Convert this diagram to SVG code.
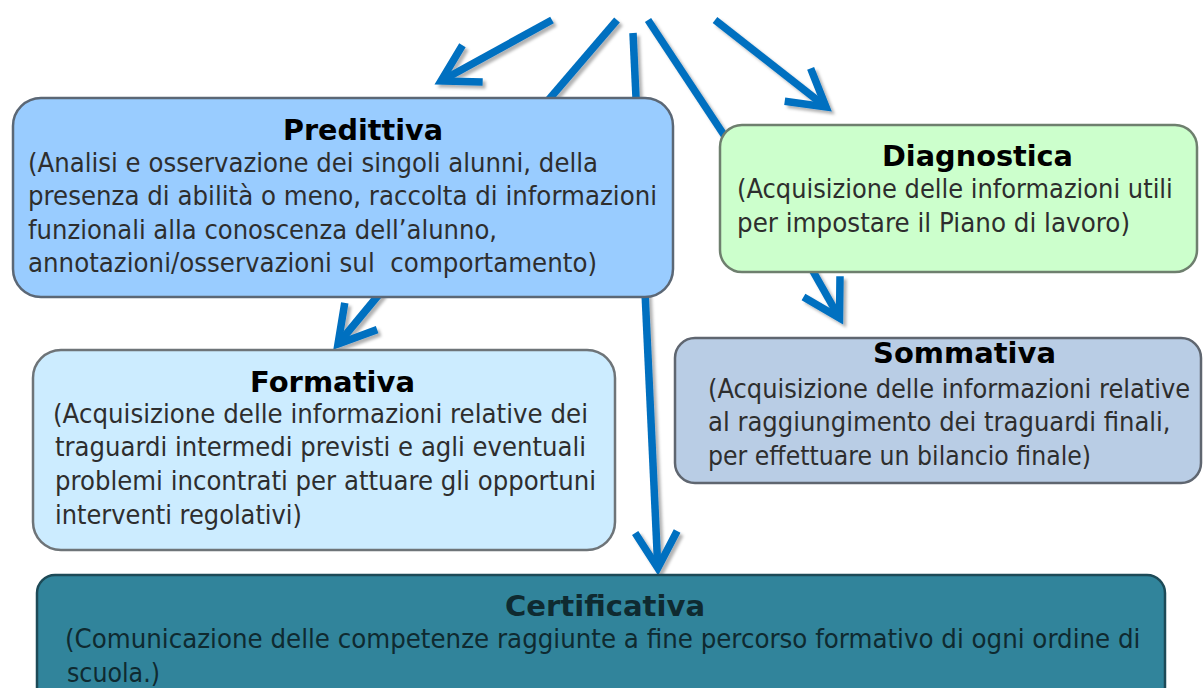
<svg xmlns="http://www.w3.org/2000/svg" width="1203" height="688" viewBox="0 0 1203 688">
<style>
.box{stroke-width:2.5}
.t{font-family:"DejaVu Sans","Noto Sans",sans-serif;font-size:29px;font-weight:bold;fill:#000}
.b{font-family:"DejaVu Sans","Noto Sans",sans-serif;font-size:27px;fill:#2e2e2e}
.cb{fill:#0f2a30}
.con{stroke:#0070C0;stroke-width:7.5;fill:none}
</style>
<defs>
<marker id="chev" markerUnits="userSpaceOnUse" orient="auto" overflow="visible" refX="0" refY="0" markerWidth="1" markerHeight="1">
<path d="M-36,-21 L0,0 L-36,21" fill="none" stroke="#0070C0" stroke-width="7.5" stroke-linejoin="miter"/>
</marker>
<filter id="sh" x="-20%" y="-20%" width="140%" height="140%">
<feDropShadow dx="3" dy="3" stdDeviation="1.5" flood-color="#000" flood-opacity="0.3"/>
</filter>
</defs>
<rect width="1203" height="688" fill="#fff"/>
<g id="connectors" class="con" filter="url(#sh)">
<line x1="552" y1="20" x2="441" y2="81" marker-end="url(#chev)"/>
<line x1="617" y1="20" x2="545" y2="104"/>
<line x1="633" y1="33" x2="657.8" y2="568" marker-end="url(#chev)"/>
<line x1="648" y1="20" x2="726" y2="138"/>
<line x1="715" y1="20" x2="826" y2="107" marker-end="url(#chev)"/>
<line x1="381" y1="292" x2="338" y2="344" marker-end="url(#chev)"/>
<line x1="810" y1="266" x2="839.5" y2="318" marker-end="url(#chev)"/>
</g>
<g id="predittiva">
<rect class="box" x="13" y="98" width="660" height="199" rx="28" fill="#99CCFF" stroke="#5b6775"/>
<text class="t" x="283" y="140" textLength="160" lengthAdjust="spacingAndGlyphs">Predittiva</text>
<text class="b" x="28" y="172" textLength="570" lengthAdjust="spacingAndGlyphs">(Analisi e osservazione dei singoli alunni, della</text>
<text class="b" x="28" y="205" textLength="629" lengthAdjust="spacingAndGlyphs">presenza di abilità o meno, raccolta di informazioni</text>
<text class="b" x="28" y="239" textLength="469" lengthAdjust="spacingAndGlyphs">funzionali alla conoscenza dell’alunno,</text>
<text class="b" x="28" y="272" textLength="569" lengthAdjust="spacingAndGlyphs" xml:space="preserve">annotazioni/osservazioni sul  comportamento)</text>
</g>
<g id="diagnostica">
<rect class="box" x="720" y="125" width="477" height="147" rx="22" fill="#CCFFCC" stroke="#6e7f6e"/>
<text class="t" x="882" y="166" textLength="191" lengthAdjust="spacingAndGlyphs">Diagnostica</text>
<text class="b" transform="translate(737,198) scale(0.893,1)" x="0" y="0" textLength="488" lengthAdjust="spacingAndGlyphs">(Acquisizione delle informazioni utili</text>
<text class="b" x="737" y="232" textLength="393" lengthAdjust="spacingAndGlyphs">per impostare il Piano di lavoro)</text>
</g>
<g id="formativa">
<rect class="box" x="33" y="350" width="582" height="200" rx="28" fill="#CCECFF" stroke="#6e7478"/>
<text class="t" x="250" y="392" textLength="165" lengthAdjust="spacingAndGlyphs">Formativa</text>
<text class="b" x="53" y="423" textLength="535" lengthAdjust="spacingAndGlyphs">(Acquisizione delle informazioni relative dei</text>
<text class="b" x="55" y="456" textLength="531" lengthAdjust="spacingAndGlyphs">traguardi intermedi previsti e agli eventuali</text>
<text class="b" x="55" y="490" textLength="541" lengthAdjust="spacingAndGlyphs">problemi incontrati per attuare gli opportuni</text>
<text class="b" x="55" y="524" textLength="247" lengthAdjust="spacingAndGlyphs">interventi regolativi)</text>
</g>
<g id="sommativa">
<rect class="box" x="675" y="338" width="526" height="145" rx="20" fill="#B9CDE5" stroke="#5f6670"/>
<text class="t" x="873" y="363" textLength="183" lengthAdjust="spacingAndGlyphs">Sommativa</text>
<text class="b" transform="translate(708,398) scale(0.893,1)" x="0" y="0" textLength="540" lengthAdjust="spacingAndGlyphs">(Acquisizione delle informazioni relative</text>
<text class="b" transform="translate(708,431) scale(0.9,1)" x="0" y="0" textLength="514" lengthAdjust="spacingAndGlyphs">al raggiungimento dei traguardi finali,</text>
<text class="b" x="708" y="465" textLength="383" lengthAdjust="spacingAndGlyphs">per effettuare un bilancio finale)</text>
</g>
<g id="certificativa">
<rect class="box" x="37" y="575" width="1128" height="130" rx="18" fill="#31849B" stroke="#1d4a57" stroke-width="3"/>
<text class="t cb" x="505" y="616" textLength="200" lengthAdjust="spacingAndGlyphs">Certificativa</text>
<text class="b cb" transform="translate(65,648) scale(0.888,1)" x="0" y="0" textLength="1211" lengthAdjust="spacingAndGlyphs">(Comunicazione delle competenze raggiunte a fine percorso formativo di ogni ordine di</text>
<text class="b cb" x="67" y="682" textLength="93" lengthAdjust="spacingAndGlyphs">scuola.)</text>
</g>
</svg>
